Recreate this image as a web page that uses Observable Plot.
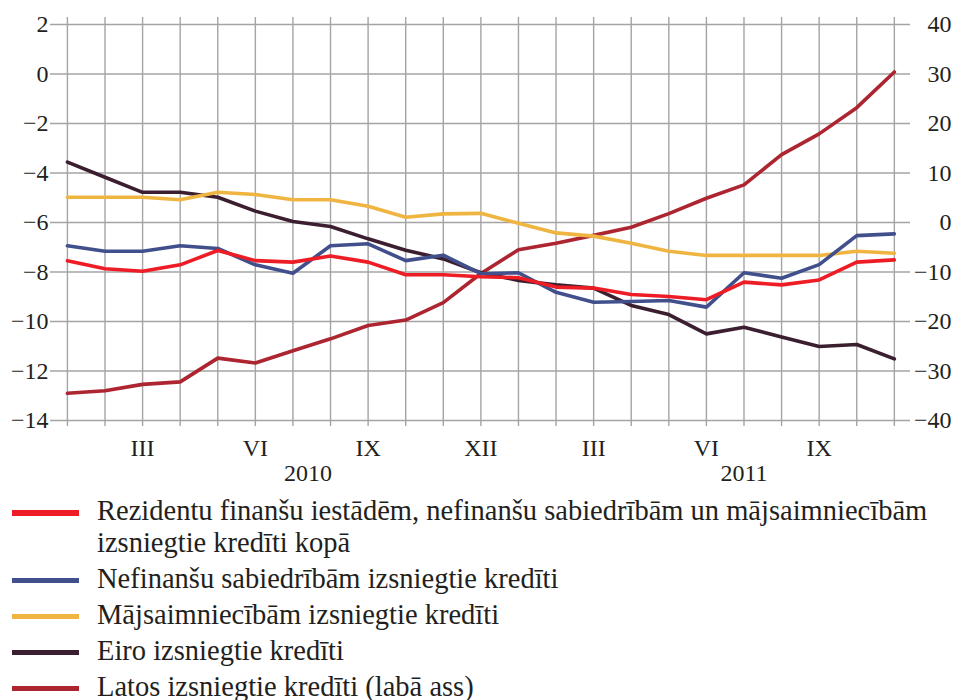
<!DOCTYPE html>
<html>
<head>
<meta charset="utf-8">
<script src="https://cdn.jsdelivr.net/npm/d3@7"></script>
<script src="https://cdn.jsdelivr.net/npm/@observablehq/plot@0.6"></script>
<style>
  html, body { margin: 0; padding: 0; background: #fff; }
  #chart svg { display: block; }
  .legend { font-family: "Liberation Serif", serif; font-size: 28.5px; color: #231f20; line-height: 31.5px; margin-top: 5px; }
  .row { display: flex; align-items: flex-start; margin-bottom: 4.5px; }
  .sw { width: 67px; height: 5.5px; margin: 15px 18px 0 12px; flex: none; }
</style>
</head>
<body>
<div id="chart"></div>
<div class="legend" id="legend"></div>
<script>
// Month index 0 = I 2010 ... 22 = XI 2011
const monthIdx = d3.range(0, 23);
const tickIdx = [2, 5, 8, 11, 14, 17, 20];
const tickLabels = ["III", "VI", "IX", "XII", "III", "VI", "IX"];
const years = ["2010", "2011"];
const yearPos = [6.4, 18.0];
const leftTicks = [-14, -12, -10, -8, -6, -4, -2, 0, 2];

const seriesNames = [
  "Rezidentu finanšu iestādēm, nefinanšu sabiedrībām un mājsaimniecībām izsniegtie kredīti kopā",
  "Nefinanšu sabiedrībām izsniegtie kredīti",
  "Mājsaimniecībām izsniegtie kredīti",
  "Eiro izsniegtie kredīti",
  "Latos izsniegtie kredīti (labā ass)"
];
const legendLines = [
  ["Rezidentu finanšu iestādēm, nefinanšu sabiedrībām un mājsaimniecībām", "izsniegtie kredīti kopā"],
  ["Nefinanšu sabiedrībām izsniegtie kredīti"],
  ["Mājsaimniecībām izsniegtie kredīti"],
  ["Eiro izsniegtie kredīti"],
  ["Latos izsniegtie kredīti (labā ass)"]
];
const colors = ["#ee1c25", "#41508c", "#efb540", "#3b1e2f", "#ad2530"];

// left axis
const total = [-7.55, -7.87, -7.97, -7.71, -7.13, -7.54, -7.60, -7.35, -7.60, -8.11, -8.11, -8.19,
               -8.23, -8.61, -8.65, -8.91, -8.99, -9.12, -8.41, -8.52, -8.32, -7.60, -7.51];
const nonfin = [-6.94, -7.16, -7.16, -6.94, -7.05, -7.71, -8.05, -6.94, -6.86, -7.54, -7.32, -8.07,
                -8.03, -8.82, -9.22, -9.19, -9.15, -9.42, -8.03, -8.25, -7.70, -6.53, -6.46];
const households = [-4.98, -4.98, -4.98, -5.08, -4.78, -4.87, -5.08, -5.08, -5.34, -5.79, -5.65, -5.63,
                    -6.03, -6.42, -6.55, -6.84, -7.16, -7.33, -7.33, -7.33, -7.33, -7.16, -7.24];
const euro = [-3.56, -4.17, -4.78, -4.78, -4.98, -5.54, -5.96, -6.16, -6.66, -7.12, -7.47, -8.03,
              -8.34, -8.52, -8.65, -9.35, -9.72, -10.50, -10.23, -10.63, -11.01, -10.93, -11.51];
// right axis
const lats = [-34.5, -34.0, -32.7, -32.2, -27.4, -28.4, -25.9, -23.5, -20.8, -19.7, -16.2, -10.3,
              -5.5, -4.2, -2.6, -0.95, 1.8, 4.9, 7.6, 13.7, 17.9, 23.2, 30.4];

// right axis [-40, 40] maps onto left axis [-14, 2]
const rightToLeft = v => (v + 40) * 16 / 80 - 14;
const leftToRight = v => (v + 14) * 80 / 16 - 40;
const fmt = d => d < 0 ? "\u2212" + Math.abs(d) : String(d);

const order = [4, 3, 2, 1, 0];
const arrays = [total, nonfin, households, euro, lats];
const rows = [];
for (const s of order) {
  arrays[s].forEach((v, i) => rows.push({
    i: monthIdx[i], v: s === 4 ? rightToLeft(v) : v, s: seriesNames[s], c: colors[s]
  }));
}

const chart = Plot.plot({
  width: 953,
  height: 490,
  marginLeft: 50,
  marginRight: 43,
  marginTop: 24,
  marginBottom: 70,
  x: {domain: [-0.45, 22.43], axis: null, label: null},
  y: {domain: [-14, 2], axis: null, label: null},
  style: {fontFamily: "Liberation Serif, serif", fontSize: "24px", color: "#231f20", background: "#fff"},
  marks: [
    Plot.gridY({ticks: leftTicks, stroke: "#a4a4a4", strokeOpacity: 1, strokeWidth: 1.4}),
    Plot.gridX({ticks: monthIdx, stroke: "#a4a4a4", strokeOpacity: 1, strokeWidth: 1.4, insetTop: -7, insetBottom: -6}),
    Plot.axisY({anchor: "left", ticks: leftTicks, tickSize: 0, tickPadding: 2, tickFormat: fmt, label: null, fontSize: 24}),
    Plot.axisY({anchor: "right", ticks: leftTicks, tickSize: 0, tickPadding: 41, textAnchor: "end",
                tickFormat: d => fmt(leftToRight(d)), label: null, fontSize: 24}),
    Plot.axisX({ticks: tickIdx, tickFormat: d => tickLabels[tickIdx.indexOf(d)], tickSize: 0, tickPadding: 18, label: null, fontSize: 24}),
    Plot.text(years, {x: (d, i) => yearPos[i], text: d => d, frameAnchor: "bottom", dy: 60, fontSize: 24}),
    Plot.line(rows, {x: "i", y: "v", z: "s", stroke: "c", strokeWidth: 3.6, strokeLinejoin: "round", strokeLinecap: "round"})
  ]
});
document.getElementById("chart").appendChild(chart);

const leg = document.getElementById("legend");
legendLines.forEach((lines, k) => {
  const row = document.createElement("div");
  row.className = "row";
  const sw = document.createElement("div");
  sw.className = "sw";
  sw.style.background = colors[k];
  const tx = document.createElement("div");
  lines.forEach((t, j) => {
    if (j) tx.appendChild(document.createElement("br"));
    tx.appendChild(document.createTextNode(t));
  });
  row.appendChild(sw);
  row.appendChild(tx);
  leg.appendChild(row);
});
</script>
</body>
</html>
